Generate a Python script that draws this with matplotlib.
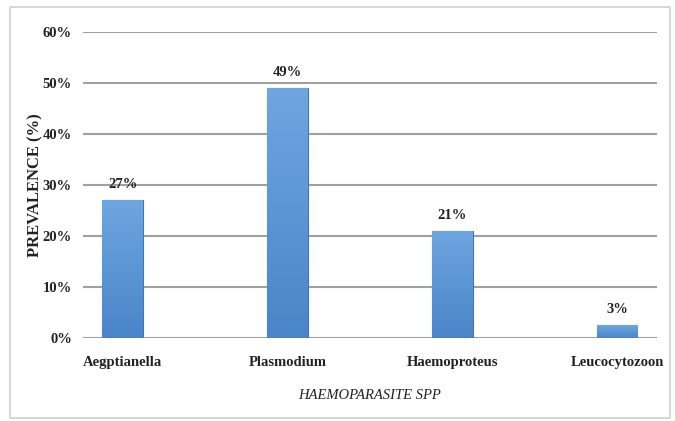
import matplotlib
matplotlib.use("Agg")
import numpy as np
import matplotlib.pyplot as plt
import matplotlib.patches as patches
from matplotlib.colors import LinearSegmentedColormap
from matplotlib.ticker import PercentFormatter

# data
species = ["Aegptianella", "Plasmodium", "Haemoproteus", "Leucocytozoon"]
prevalence = [0.27, 0.49, 0.21, 0.025]
bar_labels = ["27%", "49%", "21%", "3%"]
yticks = [0.0, 0.1, 0.2, 0.3, 0.4, 0.5, 0.6]

plt.rcParams["font.family"] = ["Liberation Serif", "DejaVu Serif"]

fig = plt.figure(figsize=(6.75, 4.21), dpi=100)
ax = fig.add_axes([0.123, 0.197, 0.850, 0.727])

# outer frame of the chart area
fig.patches.append(
    patches.Rectangle(
        (0.015, 0.008), 0.978, 0.975,
        transform=fig.transFigure, fill=False,
        edgecolor="#d0d0d0", linewidth=1.2,
    )
)

x = range(len(species))
bars = ax.bar(x, prevalence, width=0.245, color="#5593d6",
              edgecolor="#3f76b8", linewidth=0.8, zorder=3)

# light-to-dark vertical gradient inside each bar
grad = LinearSegmentedColormap.from_list("g", ["#4a85c9", "#6ea6e0"])
ramp = np.linspace(0, 1, 256).reshape(-1, 1)
for b in bars:
    x0, y0 = b.get_x(), b.get_y()
    w, h = b.get_width(), b.get_height()
    im = ax.imshow(ramp, cmap=grad, origin="lower", aspect="auto",
                   extent=[x0, x0 + w, y0, y0 + h], zorder=3.5)
    im.set_clip_path(b)

for i, (v, lab) in enumerate(zip(prevalence, bar_labels)):
    ax.text(i, v + 0.018, lab, ha="center", va="bottom",
            fontsize=10.5, fontweight="bold", color="#222222")

ax.set_xlim(-0.24, 3.24)
ax.set_ylim(0, 0.6)
ax.set_yticks(yticks)
ax.yaxis.set_major_formatter(PercentFormatter(1.0, decimals=0))
ax.set_xticks(list(x))
ax.set_xticklabels(species)

ax.grid(axis="y", color="#a0a0a0", linewidth=1.5, zorder=0)
ax.set_axisbelow(True)
for s in ax.spines.values():
    s.set_visible(False)
ax.tick_params(axis="both", length=0, labelsize=10.5, colors="#222222")
ax.tick_params(axis="y", pad=8)
ax.tick_params(axis="x", pad=13)
for t in ax.get_xticklabels() + ax.get_yticklabels():
    t.set_fontweight("bold")

ax.set_xlabel("HAEMOPARASITE SPP", fontsize=10.5, fontstyle="italic",
              labelpad=14, color="#222222")
ax.set_ylabel("PREVALENCE (%)", fontsize=12, fontweight="bold",
              color="#222222", va="center")
ax.yaxis.set_label_coords(-0.083, 0.5)

fig.savefig("out.png", dpi=100)
